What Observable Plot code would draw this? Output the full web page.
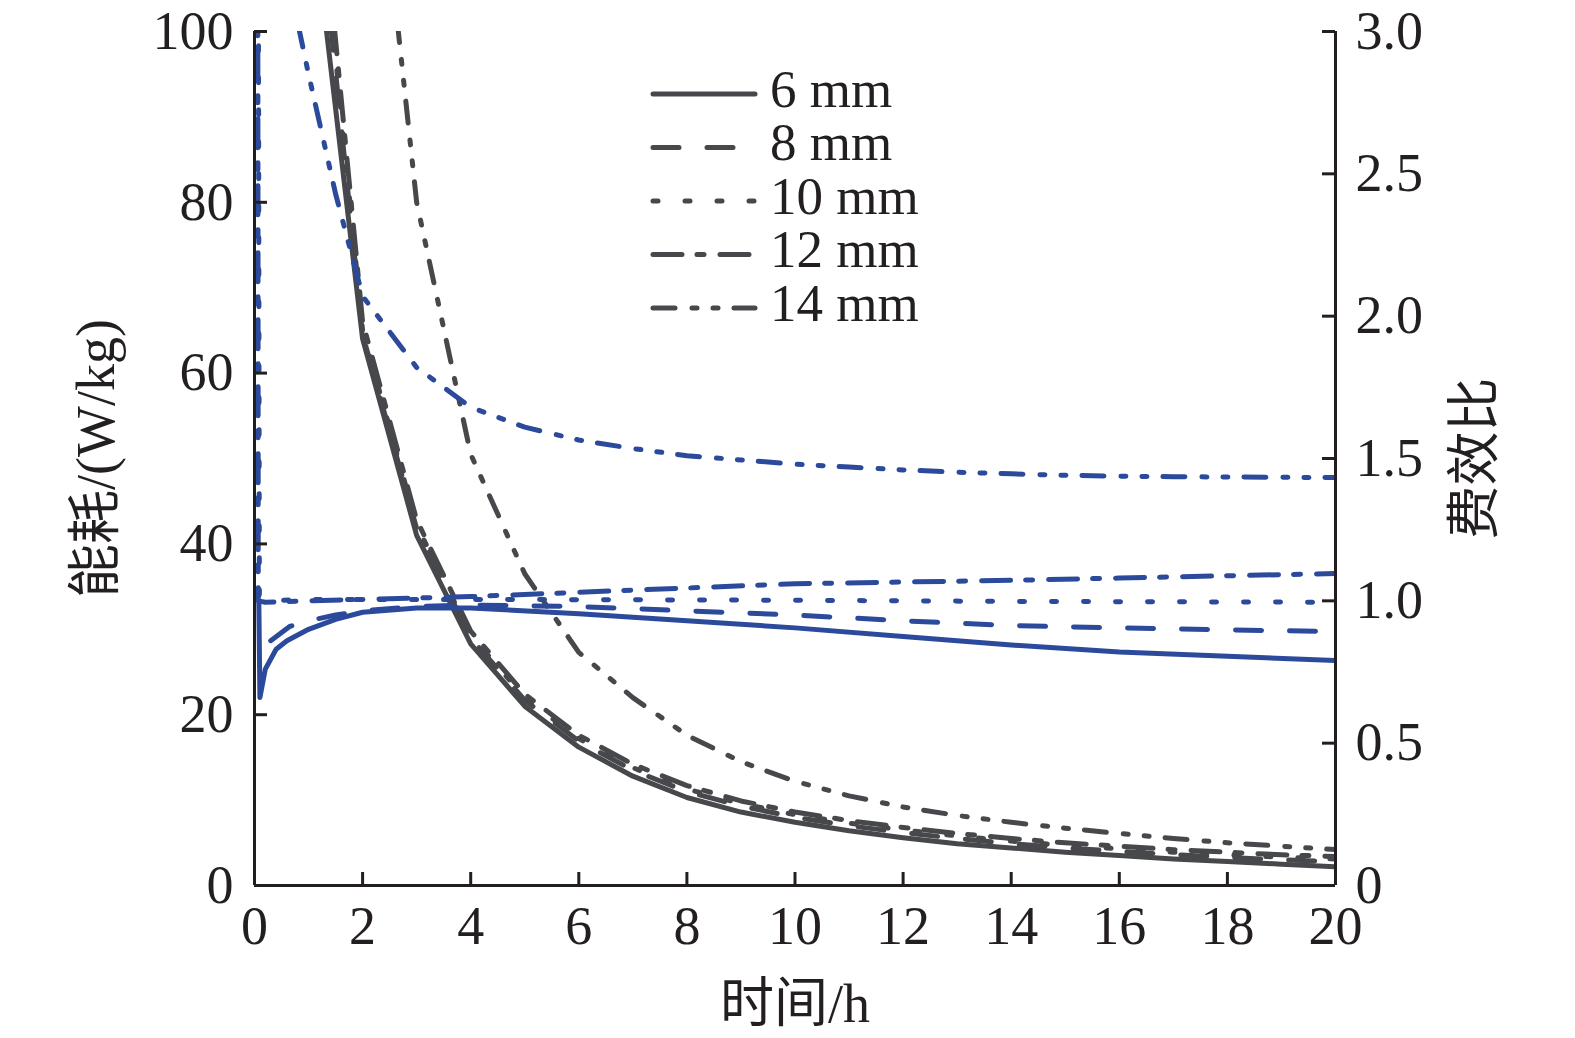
<!DOCTYPE html>
<html><head><meta charset="utf-8">
<script src="https://cdn.jsdelivr.net/npm/d3@7"></script>
<script src="https://cdn.jsdelivr.net/npm/@observablehq/plot@0.6"></script>
<style>
html,body{margin:0;padding:0;background:#fff;}
#chart{position:relative;width:1575px;height:1038px;}
#legend{position:absolute;left:0;top:0;pointer-events:none;}
</style></head><body><div id="chart"></div>
<script>
// ---------- data ----------
const seriesNames = ["6 mm", "8 mm", "10 mm", "12 mm", "14 mm"];
const xTicks = [0, 2, 4, 6, 8, 10, 12, 14, 16, 18, 20];
const energyTicks = [0, 20, 40, 60, 80, 100];
const ratioTicks = [0, 0.5, 1.0, 1.5, 2.0, 2.5, 3.0];

// energy consumption (W/kg), left axis
const energyTime = [1, 2, 3, 4, 5, 6, 7, 8, 9, 10, 11, 12, 13, 14, 15, 16, 17, 18, 19, 20];
const energy6  = [118, 64.0, 41.0, 28.3, 21.0, 16.2, 12.8, 10.3, 8.6, 7.4, 6.4, 5.6, 4.9, 4.4, 3.9, 3.5, 3.1, 2.8, 2.5, 2.2];
const energy8  = [126, 64.5, 41.8, 29.0, 21.7, 16.9, 13.5, 11.0, 9.3, 8.0, 7.0, 6.2, 5.5, 4.9, 4.4, 4.0, 3.6, 3.3, 3.0, 2.8];
const energy10 = [129, 65.0, 42.2, 29.3, 22.0, 17.2, 13.8, 11.3, 9.6, 8.3, 7.3, 6.5, 5.8, 5.2, 4.7, 4.3, 3.9, 3.6, 3.3, 3.1];
const energy12 = [132, 66.0, 42.8, 29.8, 22.4, 17.6, 14.2, 11.7, 9.9, 8.6, 7.6, 6.8, 6.1, 5.5, 5.0, 4.6, 4.2, 3.9, 3.6, 3.4];
const energy14Time = [2, 3, 4, 5, 6, 7, 8, 9, 10, 11, 12, 13, 14, 15, 16, 17, 18, 19, 20];
const energy14 = [139, 80.0, 50.5, 36.5, 27.3, 22.0, 17.6, 14.5, 12.2, 10.5, 9.2, 8.2, 7.4, 6.7, 6.1, 5.5, 5.0, 4.6, 4.2];

// cost-effectiveness ratio, right axis
const ratio6Time = [0.08, 0.1, 0.2, 0.4, 0.6, 1, 1.5, 2, 3, 4, 6, 8, 10, 12, 14, 16, 18, 20];
const ratio6     = [1.0, 0.66, 0.76, 0.83, 0.86, 0.9, 0.935, 0.96, 0.975, 0.975, 0.955, 0.93, 0.905, 0.875, 0.845, 0.82, 0.805, 0.79];
const ratio8Time = [0.3, 0.65, 1, 1.5, 2, 3, 4, 6, 8, 10, 12, 14, 16, 18, 20];
const ratio8     = [0.86, 0.91, 0.93, 0.95, 0.965, 0.98, 0.985, 0.98, 0.965, 0.95, 0.93, 0.913, 0.905, 0.898, 0.892];
const ratio10Time = [0.07, 0.09, 0.2, 1, 2, 4, 6, 8, 10, 12, 14, 16, 18, 20];
const ratio10     = [3.4, 1.02, 1.0, 1.005, 1.005, 1.005, 1.004, 1.003, 1.002, 1.0, 0.998, 0.997, 0.996, 0.995];
const ratio12Time = [0.06, 0.07, 0.2, 1, 2, 4, 6, 8, 10, 12, 14, 16, 18, 20];
const ratio12     = [3.4, 1.0, 0.995, 1.0, 1.005, 1.015, 1.03, 1.045, 1.06, 1.066, 1.072, 1.08, 1.088, 1.096];
const ratio14Time = [0.5, 1, 1.5, 2, 3, 4, 5, 6, 7, 8, 9, 10, 11, 12, 13, 14, 15, 16, 17, 18, 19, 20];
const ratio14     = [3.3, 2.85, 2.43, 2.07, 1.82, 1.68, 1.61, 1.565, 1.535, 1.51, 1.495, 1.48, 1.47, 1.46, 1.452, 1.446, 1.441, 1.438, 1.436, 1.435, 1.434, 1.433];

// ---------- styles ----------
const dashPatterns = [null, "26,28", "5,27", "29,15,7,16", "22,17,5,16,5,16"];
const gray = "#47484c";
const blue = "#2c4a9b";
const axisColor = "#231f20";
const font = "'Liberation Serif','Times New Roman','Noto Sans CJK SC',serif";
const W = 1575, H = 1038;
const mL = 254, mR = 240, mT = 31, mB = 153;
const plotW = W - mL - mR, plotH = H - mT - mB;
const tickLen = 13;
const ratioToEnergy = 100 / 3;

const energySeries = [
  energyTime.map((t, i) => ({t, v: energy6[i]})),
  energyTime.map((t, i) => ({t, v: energy8[i]})),
  energyTime.map((t, i) => ({t, v: energy10[i]})),
  energyTime.map((t, i) => ({t, v: energy12[i]})),
  energy14Time.map((t, i) => ({t, v: energy14[i]}))
];
const ratioSeries = [
  ratio6Time.map((t, i) => ({t, v: ratio6[i]})),
  ratio8Time.map((t, i) => ({t, v: ratio8[i]})),
  ratio10Time.map((t, i) => ({t, v: ratio10[i]})),
  ratio12Time.map((t, i) => ({t, v: ratio12[i]})),
  ratio14Time.map((t, i) => ({t, v: ratio14[i]}))
];

const lineMarks = [];
seriesNames.forEach((name, i) => {
  const common = {strokeWidth: 5, strokeLinecap: "round", strokeLinejoin: "round", clip: true};
  if (dashPatterns[i]) common.strokeDasharray = dashPatterns[i];
  lineMarks.push(Plot.line(energySeries[i], {x: "t", y: "v", stroke: gray, ...common}));
});
seriesNames.forEach((name, i) => {
  const common = {strokeWidth: 5, strokeLinecap: "round", strokeLinejoin: "round", clip: true};
  if (dashPatterns[i]) common.strokeDasharray = dashPatterns[i];
  lineMarks.push(Plot.line(ratioSeries[i], {x: "t", y: d => d.v * ratioToEnergy, stroke: blue, ...common}));
});

const fmtRatio = d => { const r = d / ratioToEnergy; return Math.abs(r) < 1e-9 ? "0" : r.toFixed(1); };

const chart = Plot.plot({
  width: W, height: H,
  marginLeft: mL, marginRight: mR, marginTop: mT, marginBottom: mB,
  x: {domain: [0, 20]},
  y: {domain: [0, 100]},
  style: {fontFamily: font, fontSize: "54px", color: axisColor, background: "#fff", overflow: "visible"},
  marks: [
    ...lineMarks,
    Plot.ruleY([0], {stroke: axisColor, strokeWidth: 3}),
    Plot.ruleX([0, 20], {stroke: axisColor, strokeWidth: 3}),
    Plot.tickX(xTicks, {x: d => d, stroke: axisColor, strokeWidth: 3, insetTop: plotH - tickLen}),
    Plot.tickY(energyTicks, {y: d => d, stroke: axisColor, strokeWidth: 3, insetRight: plotW - tickLen}),
    Plot.tickY(ratioTicks.map(r => r * ratioToEnergy), {y: d => d, stroke: axisColor, strokeWidth: 3, insetLeft: plotW - tickLen}),
    Plot.axisX({ticks: xTicks, tickSize: 0, tickPadding: 20, fontSize: 54, fill: axisColor,
      label: "时间/h", labelAnchor: "center", labelOffset: 136, labelArrow: "none"}),
    Plot.axisY({ticks: energyTicks, tickSize: 0, tickPadding: 21, fontSize: 54, fill: axisColor,
      label: "能耗/(W/kg)", labelAnchor: "center", labelOffset: 179, labelArrow: "none"}),
    Plot.axisY({anchor: "right", ticks: ratioTicks.map(r => r * ratioToEnergy), tickFormat: fmtRatio,
      tickSize: 0, tickPadding: 20, fontSize: 54, fill: axisColor,
      label: "费效比", labelAnchor: "center", labelOffset: 157, labelArrow: "none"})
  ]
});
const container = document.getElementById("chart");
container.appendChild(chart);

// ---------- legend overlay ----------
const leg = d3.select(container).append("svg")
  .attr("id", "legend").attr("width", W).attr("height", H);
const rowY0 = 94, rowStep = 53.5, lineX1 = 653, lineX2 = 755, textX = 770;
const rows = leg.selectAll("g").data(seriesNames).join("g")
  .attr("transform", (d, i) => `translate(0,${rowY0 + i * rowStep})`);
rows.append("line")
  .attr("x1", lineX1).attr("x2", lineX2).attr("y1", 0).attr("y2", 0)
  .attr("stroke", gray).attr("stroke-width", 5).attr("stroke-linecap", "round")
  .attr("stroke-dasharray", (d, i) => dashPatterns[i]);
rows.append("text")
  .attr("x", textX).attr("y", 0).attr("dy", "0.24em")
  .attr("font-family", font).attr("font-size", 53).attr("fill", axisColor)
  .text(d => d);
</script></body></html>
